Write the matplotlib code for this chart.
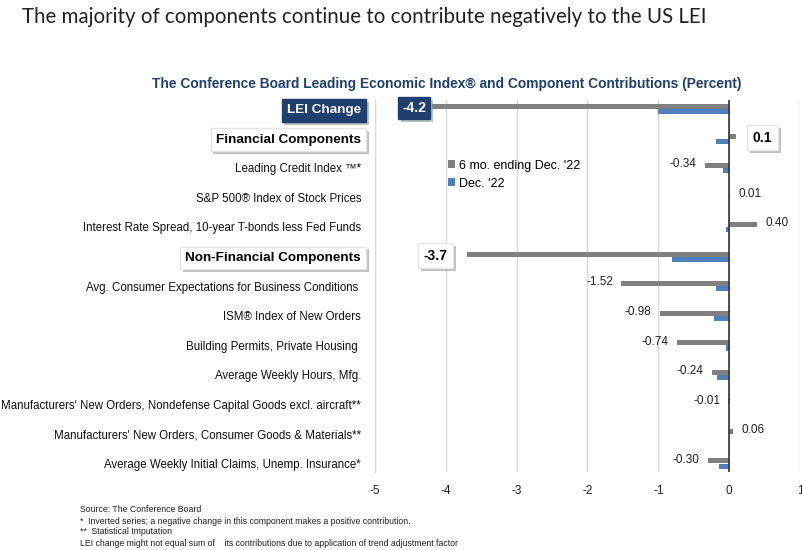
import matplotlib.pyplot as plt
import matplotlib.patheffects as pe
import numpy as np

plt.rcParams['font.family'] = ['Liberation Sans', 'DejaVu Sans']

# Data
labels = ["LEI Change", "Financial Components", "Leading Credit Index \u2122*",
          "S&P 500\u00ae Index of Stock Prices",
          "Interest Rate Spread, 10-year T-bonds less Fed Funds",
          "Non-Financial Components",
          "Avg. Consumer Expectations for Business Conditions ",
          "ISM\u00ae Index of New Orders", "Building Permits, Private Housing ",
          "Average Weekly Hours, Mfg.",
          "Manufacturers' New Orders, Nondefense Capital Goods excl. aircraft**",
          "Manufacturers' New Orders, Consumer Goods & Materials**",
          "Average Weekly Initial Claims, Unemp. Insurance*"]
six_mo = [-4.2, 0.1, -0.34, 0.01, 0.40, -3.7, -1.52, -0.98, -0.74, -0.24, -0.01, 0.06, -0.30]
dec22 = [-1.0, -0.18, -0.08, 0.0, -0.04, -0.8, -0.18, -0.22, -0.04, -0.17, 0.0, 0.0, -0.14]
headers = [0, 1, 5]
xticks = [-5, -4, -3, -2, -1, 0, 1]

gray = '#808080'
blue = '#4F7FBF'
navy = '#1F3F6E'
shadow = [pe.withSimplePatchShadow(offset=(2, -2), shadow_rgbFace='#999999', alpha=0.6)]
# offset (points) of the boxed header values from the bar end
head_off = {0: -4, 1: 12, 5: -14}

fig = plt.figure(figsize=(8.03, 5.5), dpi=100)
ax = fig.add_axes([375 / 803, 1 - 472 / 550, 425 / 803, 372 / 550])

y = np.arange(len(labels))
ax.barh(y - 0.08, six_mo, height=0.17, color=gray, label="6 mo. ending Dec. '22", zorder=3)
ax.barh(y + 0.1, dec22, height=0.17, color=blue, label="Dec. '22", zorder=3)

ax.set_xlim(-5, 1)
ax.set_ylim(12.3, -0.3)
ax.set_xticks(xticks)
ax.set_xticklabels([str(t) for t in xticks], fontsize=8.5, color='#222222')
ax.tick_params(axis='x', length=0, pad=9)
ax.tick_params(axis='y', length=0, pad=10)
ax.set_yticks(y)
ax.set_yticklabels(labels, fontsize=8.3, color='#111111')
ax.grid(axis='x', color='#d9d9d9', linewidth=1, zorder=0)
for s in ['top', 'right', 'bottom']:
    ax.spines[s].set_visible(False)
ax.spines['left'].set_color('#d9d9d9')
ax.axvline(0, color='#333333', linewidth=1.2, zorder=4)

# header labels as boxes
for i, t in enumerate(ax.get_yticklabels()):
    if i in headers:
        t.set_fontweight('bold')
        t.set_fontsize(9.7)
        if i == 0:
            t.set_color('white')
            t.set_bbox(dict(boxstyle='square,pad=0.4', facecolor=navy, edgecolor=navy))
        else:
            t.set_color('black')
            t.set_bbox(dict(boxstyle='square,pad=0.4', facecolor='white', edgecolor='#e6e6e6'))
        t.get_bbox_patch().set_path_effects(shadow)

# value labels
for i, v in enumerate(six_mo):
    if i in headers:
        txt = f"{v:.1f}"
        if i == 0:
            box = dict(boxstyle='square,pad=0.3', facecolor=navy, edgecolor=navy)
            col = 'white'
        else:
            box = dict(boxstyle='square,pad=0.4', facecolor='white', edgecolor='#e6e6e6')
            col = 'black'
        a = ax.annotate(txt, (v, i - 0.02), xytext=(head_off[i], 0), textcoords='offset points',
                        ha='left' if v > 0 else 'right', va='center', fontsize=10,
                        fontweight='bold', color=col, bbox=box, zorder=5)
        a.get_bbox_patch().set_path_effects(shadow)
    else:
        txt = f"{v:.2f}"
        off = 6 if v >= 0 else -6
        ax.annotate(txt, (v, i - 0.12), xytext=(off, 0), textcoords='offset points',
                    ha='left' if v >= 0 else 'right', va='center', fontsize=8.5,
                    color='#222222', zorder=5)

ax.legend(loc='upper left', bbox_to_anchor=(0.145, 0.87), frameon=False, fontsize=9,
          handlelength=0.6, handleheight=0.6, handletextpad=0.3, labelspacing=0.5)

fig.text(22 / 803, 1 - 17 / 550, "The majority of components continue to contribute negatively to the US LEI",
         fontsize=14.8, family=['Lato', 'DejaVu Sans'], color='#222222', va='center', ha='left')
fig.text(447 / 803, 1 - 84 / 550,
         "The Conference Board Leading Economic Index\u00ae and Component Contributions (Percent)",
         fontsize=9.9, fontweight='bold', color=navy, ha='center', va='center')

notes = ["Source: The Conference Board",
         "*  Inverted series; a negative change in this component makes a positive contribution.",
         "**  Statistical Imputation",
         "LEI change might not equal sum of    its contributions due to application of trend adjustment factor"]
for k, n in enumerate(notes):
    fig.text(80 / 803, 1 - (510 + k * 11) / 550, n, fontsize=6.3, color='#222222', va='center')

fig.savefig('out.png', dpi=100)
